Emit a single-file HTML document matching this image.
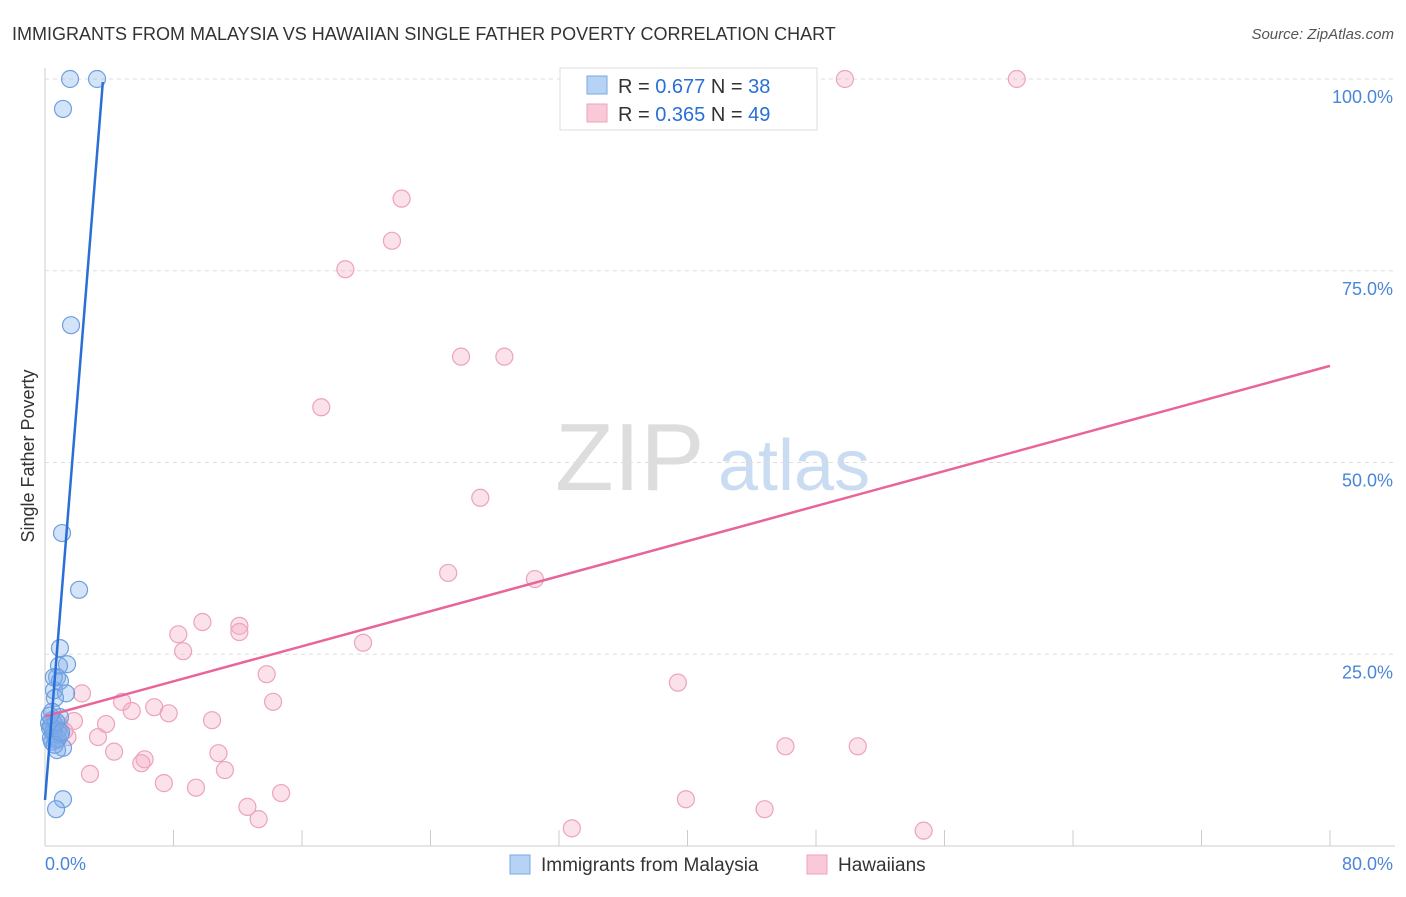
<!DOCTYPE html>
<html><head><meta charset="utf-8"><style>
body{margin:0;background:#fff;font-family:"Liberation Sans",sans-serif;}
svg text{font-family:"Liberation Sans",sans-serif;}
</style></head><body>
<svg id="c" width="1406" height="892">
<text x="12" y="40" font-size="18" fill="#333">IMMIGRANTS FROM MALAYSIA VS HAWAIIAN SINGLE FATHER POVERTY CORRELATION CHART</text>
<text x="1394" y="39" font-size="15" fill="#555" text-anchor="end" font-style="italic">Source: ZipAtlas.com</text>
<text transform="translate(34,456) rotate(-90)" font-size="18" fill="#333" text-anchor="middle">Single Father Poverty</text>
<text x="555" y="490" font-size="96" fill="#ddd" font-family="Liberation Serif">ZIP</text>
<text x="718" y="490" font-size="72" fill="#c9dcf2">atlas</text>
<g id="grid"></g><g id="pts"></g><g id="lines"></g>
<g>
<rect x="560" y="68" width="257" height="62" fill="#fff" stroke="#ddd"/>
<rect x="587" y="76" width="20" height="18" fill="#b6d3f5" stroke="#7aa8e0"/>
<rect x="587" y="104" width="20" height="18" fill="#f9c9d8" stroke="#eda3bb"/>
<text x="618" y="93" font-size="20" fill="#333">R = <tspan fill="#2a6fd6">0.677</tspan>   N = <tspan fill="#2a6fd6">38</tspan></text>
<text x="618" y="121" font-size="20" fill="#333">R = <tspan fill="#2a6fd6">0.365</tspan>   N = <tspan fill="#2a6fd6">49</tspan></text>
</g>
<g>
<rect x="510" y="855" width="20" height="19" fill="#b6d3f5" stroke="#7aa8e0"/>
<text x="541" y="871" font-size="19" fill="#333">Immigrants from Malaysia</text>
<rect x="807" y="855" width="20" height="19" fill="#f9c9d8" stroke="#eda3bb"/>
<text x="838" y="871" font-size="19" fill="#333">Hawaiians</text>
</g>
</svg>
<script>
const blueX=[1.56,3.24,1.12,1.62,1.06,2.12,0.93,1.37,0.87,0.75,0.93,0.56,1.31,0.62,0.44,0.93,0.44,0.62,0.31,0.81,0.5,0.93,0.37,0.69,0.44,1.12,0.75,1.12,0.69,0.5,0.25,0.8,0.6,0.4,0.7,0.3,1.0,0.55];
const blueY=[100,100,96.1,67.9,40.8,33.4,25.8,23.7,23.5,22.0,21.5,20.3,19.9,19.3,17.5,16.8,16.4,15.8,15.4,15.1,14.7,14.5,14.1,13.8,13.6,12.8,12.5,6.1,4.8,15.0,16.0,14.0,13.2,15.6,16.2,17.0,14.8,22.0];
const pinkX=[49.8,60.5,22.2,21.6,18.7,25.9,28.6,17.2,27.1,25.1,30.5,9.8,12.1,8.3,12.1,19.8,8.6,13.8,39.4,2.3,4.8,14.2,5.4,6.8,7.7,1.8,3.8,10.4,3.3,1.4,4.3,10.8,46.1,50.6,6.2,6.0,11.2,2.8,7.4,9.4,14.7,12.6,13.3,39.9,44.8,32.8,54.7,0.9,1.2];
const pinkY=[100,100,84.4,78.9,75.2,63.8,63.8,57.2,45.4,35.6,34.8,29.2,28.7,27.6,27.9,26.5,25.4,22.4,21.3,19.9,18.8,18.8,17.6,18.1,17.3,16.3,15.9,16.4,14.2,14.2,12.3,12.1,13.0,13.0,11.3,10.8,9.9,9.4,8.2,7.6,6.9,5.1,3.5,6.1,4.8,2.3,2.0,15.8,15.0];
const blueLine=[0,6.0,3.6,99.6];
const pinkLine=[0,16.9,80,62.6];
const yTicks=[25,50,75,100];
const xTickLabels=["0.0%","80.0%"];
const sx=v=>45+v/80*1285, sy=v=>846-v*7.67;
const NS="http://www.w3.org/2000/svg";
function mk(tag,at,parent){const e=document.createElementNS(NS,tag);for(const k in at)e.setAttribute(k,at[k]);document.getElementById(parent).appendChild(e);return e;}
let ax=mk('line',{x1:45,y1:68,x2:45,y2:846,stroke:'#ccc'},'grid');


let bx=mk('line',{x1:45,y1:846,x2:1395,y2:846,stroke:'#ccc'},'grid');


yTicks.forEach(t=>{
 const g=mk('line',{x1:45,y1:sy(t),x2:1395,y2:sy(t),stroke:'#ddd','stroke-dasharray':'4,4'},'grid');
 
 
 const l=mk('text',{x:1393,y:sy(t)+24,'font-size':18,fill:'#4a86d8','text-anchor':'end'},'grid');
 l.textContent=t.toFixed(1)+'%';
 
 
});
for(let i=1;i<=10;i++){
 const x=sx(i*8);
 const t=mk('line',{x1:x,y1:830,x2:x,y2:846,stroke:'#ccc'},'grid');
 
 
}
const l0=mk('text',{x:45,y:870,'font-size':18,fill:'#4a86d8'},'grid');l0.textContent=xTickLabels[0];


const l1=mk('text',{x:1393,y:870,'font-size':18,fill:'#4a86d8','text-anchor':'end'},'grid');l1.textContent=xTickLabels[1];


pinkX.forEach((v,i)=>{
 const c=mk('circle',{cx:sx(v),cy:sy(pinkY[i]),r:8.5,fill:'rgba(244,170,195,0.35)',stroke:'#eda3bb','stroke-width':1.2},'pts');
 
 
});
blueX.forEach((v,i)=>{
 const c=mk('circle',{cx:sx(v),cy:sy(blueY[i]),r:8.5,fill:'rgba(130,175,235,0.35)',stroke:'#6f9fe0','stroke-width':1.2},'pts');
 
 
});
const pl=mk('line',{x1:sx(pinkLine[0]),y1:sy(pinkLine[1]),x2:sx(pinkLine[2]),y2:sy(pinkLine[3]),stroke:'#e8659a','stroke-width':2.5},'lines');


const bl=mk('line',{x1:sx(blueLine[0]),y1:sy(blueLine[1]),x2:sx(blueLine[2]),y2:sy(blueLine[3]),stroke:'#2a6fd6','stroke-width':2.5},'lines');


</script>
</body></html>
